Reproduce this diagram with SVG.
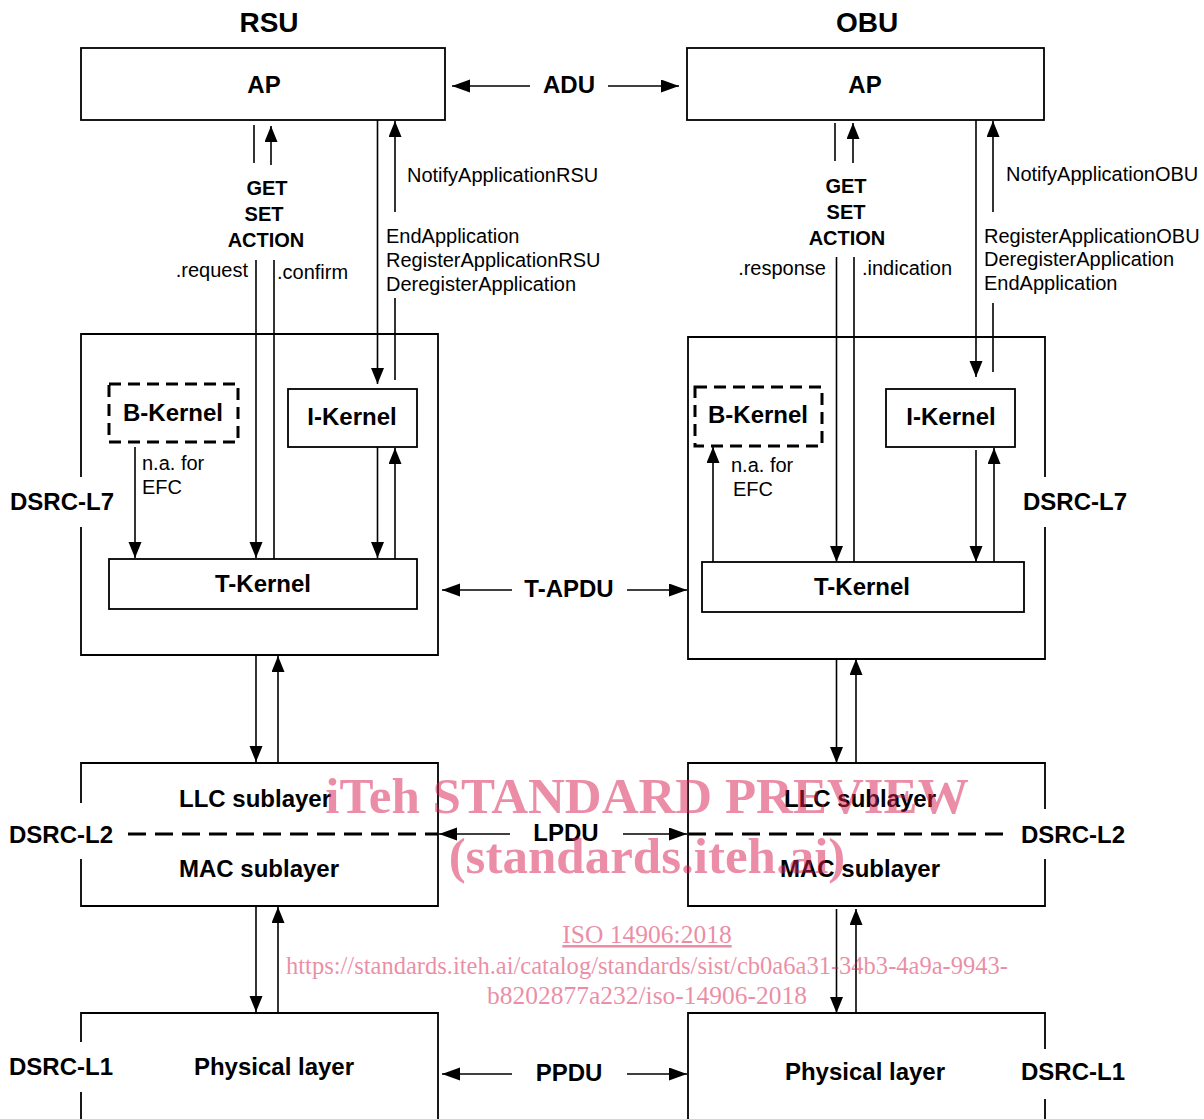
<svg xmlns="http://www.w3.org/2000/svg" width="1204" height="1119" viewBox="0 0 1204 1119">
<style>
.box{fill:none;stroke:#000;stroke-width:1.8}
.dbox{fill:none;stroke:#000;stroke-width:3;stroke-dasharray:12,7}
.ln{fill:none;stroke:#000;stroke-width:1.6}
.av{fill:none;stroke:#000;stroke-width:1.6;marker-end:url(#ah)}
.ah{fill:none;stroke:#000;stroke-width:1.6;marker-end:url(#ahb)}
.dash{fill:none;stroke:#000;stroke-width:3;stroke-dasharray:18,9}
.t{font-family:"Liberation Sans",Arial,sans-serif;fill:#000}
.ttl{font-size:28px;font-weight:bold;text-anchor:middle}
.b{font-size:24px;font-weight:bold}
.bm{font-size:24px;font-weight:bold;text-anchor:middle}
.g{font-size:20px;font-weight:bold;text-anchor:middle}
.r{font-size:20px}
.re{font-size:20px;text-anchor:end}
.wm{font-family:"Liberation Serif","Times New Roman",serif;fill:#d81e50;opacity:0.5;text-anchor:middle}
</style>
<defs>
<marker id="ah" markerUnits="userSpaceOnUse" markerWidth="17" markerHeight="14" refX="16" refY="6.5" orient="auto">
<path d="M0,0 L16,6.5 L0,13 z" fill="#000"/>
</marker>
<marker id="ahb" markerUnits="userSpaceOnUse" markerWidth="19" markerHeight="14" refX="18" refY="6.5" orient="auto">
<path d="M0,0 L18,6.5 L0,13 z" fill="#000"/>
</marker>
</defs>

<text class="t ttl" x="269" y="32">RSU</text>
<text class="t ttl" x="867" y="32">OBU</text>

<g id="rsu-ap">
<rect class="box" x="81" y="48" width="364" height="72"/>
<text class="t bm" x="264" y="93">AP</text>
</g>
<g id="obu-ap">
<rect class="box" x="687" y="48" width="357" height="72"/>
<text class="t bm" x="865" y="93">AP</text>
</g>

<g id="rsu-l7">
<path class="box" d="M81,477 V334 H438 V655 H81 V527"/>
<text class="t b" x="10" y="510">DSRC-L7</text>
</g>
<g id="rsu-bkernel">
<rect class="dbox" x="109" y="384" width="129" height="58"/>
<text class="t bm" x="173" y="421">B-Kernel</text>
</g>
<g id="rsu-ikernel">
<rect class="box" x="288" y="389" width="129" height="58"/>
<text class="t bm" x="352" y="425">I-Kernel</text>
</g>
<g id="rsu-tkernel">
<rect class="box" x="109" y="559" width="308" height="50"/>
<text class="t bm" x="263" y="592">T-Kernel</text>
</g>

<g id="obu-l7">
<path class="box" d="M1045,477 V337 H688 V659 H1045 V527"/>
<text class="t b" x="1023" y="510">DSRC-L7</text>
</g>
<g id="obu-bkernel">
<rect class="dbox" x="695" y="387" width="127" height="59"/>
<text class="t bm" x="758" y="423">B-Kernel</text>
</g>
<g id="obu-ikernel">
<rect class="box" x="886" y="389" width="129" height="58"/>
<text class="t bm" x="951" y="425">I-Kernel</text>
</g>
<g id="obu-tkernel">
<rect class="box" x="702" y="562" width="322" height="50"/>
<text class="t bm" x="862" y="595">T-Kernel</text>
</g>

<g id="rsu-l2">
<path class="box" d="M81,803 V763 H438 V906 H81 V859"/>
<text class="t bm" x="255" y="807">LLC sublayer</text>
<text class="t bm" x="259" y="877">MAC sublayer</text>
<text class="t b" x="9" y="843">DSRC-L2</text>
<line class="dash" x1="128" y1="834" x2="438" y2="834"/>
</g>
<g id="obu-l2">
<path class="box" d="M1045,809 V763 H688 V906 H1045 V859"/>
<text class="t bm" x="860" y="807">LLC sublayer</text>
<text class="t bm" x="860" y="877">MAC sublayer</text>
<text class="t b" x="1021" y="843">DSRC-L2</text>
<line class="dash" x1="688" y1="834" x2="1012" y2="834"/>
</g>

<g id="rsu-l1">
<path class="box" d="M81,1042 V1013 H438 V1125 M81,1092 V1125"/>
<text class="t bm" x="274" y="1075">Physical layer</text>
<text class="t b" x="9" y="1075">DSRC-L1</text>
</g>
<g id="obu-l1">
<path class="box" d="M1045,1049 V1013 H688 V1125 M1045,1099 V1125"/>
<text class="t bm" x="865" y="1080">Physical layer</text>
<text class="t b" x="1021" y="1080">DSRC-L1</text>
</g>

<g id="connectors">
<line class="ah" x1="530" y1="86" x2="452" y2="86"/>
<line class="ah" x1="608" y1="86" x2="679" y2="86"/>
<text class="t bm" x="569" y="93">ADU</text>
<line class="ah" x1="512" y1="590" x2="442" y2="590"/>
<line class="ah" x1="627" y1="590" x2="687" y2="590"/>
<text class="t bm" x="569" y="597">T-APDU</text>
<line class="ah" x1="510" y1="834" x2="439" y2="834"/>
<line class="ah" x1="623" y1="834" x2="687" y2="834"/>
<text class="t bm" x="566" y="841">LPDU</text>
<line class="ah" x1="512" y1="1074" x2="442" y2="1074"/>
<line class="ah" x1="627" y1="1074" x2="687" y2="1074"/>
<text class="t bm" x="569" y="1081">PPDU</text>

<line class="ln" x1="254" y1="125" x2="254" y2="163"/>
<line class="av" x1="271" y1="165" x2="271" y2="126"/>
<text class="t g" x="267" y="195">GET</text>
<text class="t g" x="264" y="221">SET</text>
<text class="t g" x="266" y="247">ACTION</text>
<text class="t re" x="248" y="277">.request</text>
<text class="t r" x="277" y="279">.confirm</text>
<line class="av" x1="256" y1="260" x2="256" y2="558"/>
<line class="ln" x1="274" y1="260" x2="274" y2="559"/>
<line class="av" x1="377.5" y1="120" x2="377.5" y2="384"/>
<line class="av" x1="395" y1="212" x2="395" y2="121"/>
<line class="ln" x1="395" y1="298" x2="395" y2="380"/>
<text class="t r" x="407" y="182">NotifyApplicationRSU</text>
<text class="t r" x="386" y="243">EndApplication</text>
<text class="t r" x="386" y="267">RegisterApplicationRSU</text>
<text class="t r" x="386" y="291">DeregisterApplication</text>
<line class="av" x1="135" y1="447" x2="135" y2="558"/>
<text class="t r" x="142" y="470">n.a. for</text>
<text class="t r" x="142" y="494">EFC</text>
<line class="av" x1="377.5" y1="447" x2="377.5" y2="558"/>
<line class="av" x1="395" y1="559" x2="395" y2="448"/>
<line class="av" x1="256" y1="655" x2="256" y2="762"/>
<line class="av" x1="278" y1="763" x2="278" y2="656"/>
<line class="av" x1="256" y1="906" x2="256" y2="1012"/>
<line class="av" x1="278" y1="1013" x2="278" y2="907"/>

<line class="ln" x1="835" y1="123" x2="835" y2="161"/>
<line class="av" x1="853" y1="163" x2="853" y2="123"/>
<text class="t g" x="846" y="193">GET</text>
<text class="t g" x="846" y="219">SET</text>
<text class="t g" x="847" y="245">ACTION</text>
<text class="t re" x="826" y="275">.response</text>
<text class="t r" x="862" y="275">.indication</text>
<line class="av" x1="836.5" y1="257" x2="836.5" y2="562"/>
<line class="ln" x1="854" y1="257" x2="854" y2="562"/>
<line class="av" x1="976" y1="120" x2="976" y2="377"/>
<line class="av" x1="993" y1="212" x2="993" y2="121"/>
<line class="ln" x1="993" y1="303" x2="993" y2="372"/>
<text class="t r" x="1006" y="181">NotifyApplicationOBU</text>
<text class="t r" x="984" y="243">RegisterApplicationOBU</text>
<text class="t r" x="984" y="266">DeregisterApplication</text>
<text class="t r" x="984" y="290">EndApplication</text>
<line class="av" x1="713" y1="562" x2="713" y2="447"/>
<text class="t r" x="731" y="472">n.a. for</text>
<text class="t r" x="733" y="496">EFC</text>
<line class="av" x1="976" y1="450" x2="976" y2="562"/>
<line class="av" x1="994" y1="562" x2="994" y2="448"/>
<line class="av" x1="836.5" y1="659" x2="836.5" y2="763"/>
<line class="av" x1="856" y1="763" x2="856" y2="659"/>
<line class="av" x1="836.5" y1="909" x2="836.5" y2="1013"/>
<line class="av" x1="856" y1="1013" x2="856" y2="909"/>
</g>

<g id="watermark">
<text class="wm" x="647" y="813" font-size="51" font-weight="bold">iTeh STANDARD PREVIEW</text>
<text class="wm" x="647" y="873" font-size="51" font-weight="bold">(standards.iteh.ai)</text>
<text class="wm" x="647" y="943" font-size="25.5" text-decoration="underline">ISO 14906:2018</text>
<text class="wm" x="647" y="974" font-size="25" textLength="722" lengthAdjust="spacingAndGlyphs">https://standards.iteh.ai/catalog/standards/sist/cb0a6a31-34b3-4a9a-9943-</text>
<text class="wm" x="647" y="1004" font-size="25" textLength="320" lengthAdjust="spacingAndGlyphs">b8202877a232/iso-14906-2018</text>
</g>
</svg>
